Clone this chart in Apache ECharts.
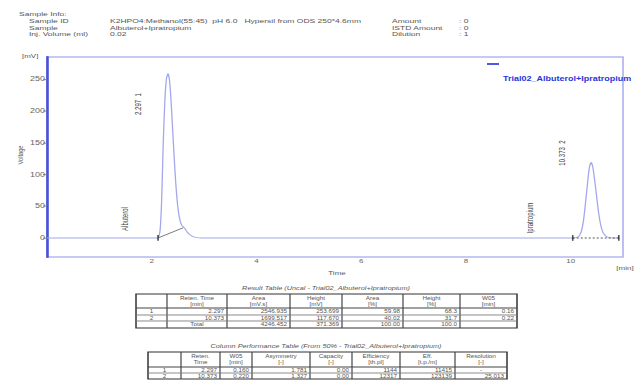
<!DOCTYPE html>
<html><head><meta charset="utf-8">
<script src="https://cdn.jsdelivr.net/npm/echarts@6/dist/echarts.min.js"></script>
<style>
html,body{margin:0;padding:0;background:#fff;overflow:hidden;width:638px;height:385px;}
#wrap{width:638px;height:385px;overflow:hidden;position:relative;}
#c{width:638px;height:539px;transform:scale(1,0.7142857);transform-origin:0 0;}
</style></head><body><div id="wrap"><div id="c"></div></div>
<script>
// ---------------- data ----------------
const traceTime = [0, 1.0, 2.00, 2.10, 2.13, 2.16, 2.19, 2.22, 2.25, 2.28, 2.31, 2.34, 2.37, 2.40, 2.43, 2.46, 2.49, 2.52, 2.55, 2.58, 2.61, 2.64, 2.68, 2.73, 2.79, 2.86, 2.95, 4.0, 6.0, 8.0, 10.05, 10.12, 10.17, 10.21, 10.25, 10.29, 10.33, 10.36, 10.39, 10.42, 10.45, 10.49, 10.53, 10.57, 10.61, 10.66, 10.72, 10.80, 10.92];
const traceMv   = [0, 0, 0, 0, 1, 12, 60, 150, 215, 250, 259, 248, 215, 170, 125, 85, 55, 36, 25, 19, 17, 14, 9, 5, 2, 0.5, 0, 0, 0, 0, 0, 1, 4, 12, 30, 60, 92, 112, 119, 113, 97, 70, 42, 22, 10, 4, 1, 0, 0];
const peak1BaseTime = [2.12, 2.60];
const peak1BaseMv   = [0, 16];
const peak2BaseTime = [10.04, 10.92];
const peak2BaseMv   = [0, 0];
const markerTime = [2.12, 10.04, 10.92];
const markerMv   = [0, 0, 0];
const xTicks = [2, 4, 6, 8, 10];
const yTicks = [0, 50, 100, 150, 200, 250];
const seriesName = 'Trial02_Albuterol+Ipratropium';
const peakLabels = ['2.297  1', 'Albuterol', '10.373  2', 'Ipratropium'];

const infoTitle = 'Sample Info:';
const infoLabels = ['Sample ID', 'Sample', 'Inj. Volume (ml)'];
const infoValues = ['K2HPO4:Methanol(55:45)  pH 6.0   Hypersil from ODS 250*4.6mm', 'Albuterol+Ipratropium', '0.02'];
const infoRightLabels = ['Amount', 'ISTD Amount', 'Dilution'];
const infoRightValues = [': 0', ': 0', ': 1'];

const resultTitle = 'Result Table (Uncal - Trial02_Albuterol+Ipratropium)';
const resultHeaders = ['', 'Reten. Time\n[min]', 'Area\n[mV.s]', 'Height\n[mV]', 'Area\n[%]', 'Height\n[%]', 'W05\n[min]'];
const resultRows = [
  ['1', '2.297', '2546.935', '253.699', '59.98', '68.3', '0.16'],
  ['2', '10.373', '1699.517', '117.670', '40.02', '31.7', '0.22'],
  ['', 'Total', '4246.452', '371.369', '100.00', '100.0', '']
];
const perfTitle = 'Column Performance Table (From 50% - Trial02_Albuterol+Ipratropium)';
const perfHeaders = ['', 'Reten.\nTime', 'W05\n[min]', 'Asymmetry\n[-]', 'Capacity\n[-]', 'Efficiency\n[th.pl]', 'Eff.\n[t.p./m]', 'Resolution\n[-]'];
const perfRows = [
  ['1', '2.297', '0.160', '1.781', '0.00', '1144', '11415', '-'],
  ['2', '10.373', '0.220', '1.327', '0.00', '12317', '123139', '25.013']
];

// ---------------- layout ----------------
const K = 1.4;              // vertical stretch, undone by CSS
const FONT = '"Liberation Sans", Arial, sans-serif';
const zip = (a, b) => a.map((v, i) => [v, b[i]]);

function txt(x, y, s, o) {
  o = o || {};
  return {
    type: 'text', x: x, y: y * K, rotation: o.rot || 0, silent: true, z: 10,
    style: {
      text: s, fill: o.fill || '#555', fontSize: o.size || 8, fontFamily: FONT,
      fontWeight: o.weight || 'normal', fontStyle: o.style || 'normal',
      lineHeight: o.lh || undefined,
      textAlign: o.align || 'left', align: o.align || 'left',
      textVerticalAlign: 'middle', verticalAlign: 'middle'
    }
  };
}
function ln(x1, y1, x2, y2, stroke, w, dash) {
  return { type: 'line', silent: true, z: 10,
    shape: { x1: x1, y1: y1 * K, x2: x2, y2: y2 * K },
    style: { stroke: stroke, lineWidth: w, lineDash: dash || null } };
}
function table(cols, rys, headers, rows, fs) {
  const els = [];
  const x0 = cols[0], x1 = cols[cols.length - 1], y0 = rys[0], y1 = rys[rys.length - 1];
  els.push({ type: 'rect', silent: true, z: 10, shape: { x: x0, y: y0 * K, width: x1 - x0, height: (y1 - y0) * K },
    style: { fill: 'none', stroke: '#333', lineWidth: 1.5 } });
  for (let i = 1; i < cols.length - 1; i++) els.push(ln(cols[i], y0, cols[i], y1, '#444', 1.2));
  for (let j = 1; j < rys.length - 1; j++) els.push(ln(x0, rys[j], x1, rys[j], j === 1 ? '#444' : '#777', j === 1 ? 1.4 : 1.0));
  headers.forEach((h, i) => {
    if (h) els.push(txt((cols[i] + cols[i + 1]) / 2, (rys[0] + rys[1]) / 2, h, { size: fs, align: 'center', lh: 8.6 }));
  });
  rows.forEach((r, ri) => {
    const yc = (rys[ri + 1] + rys[ri + 2]) / 2;
    r.forEach((v, i) => {
      if (!v) return;
      const center = i === 0 || v === 'Total' || v === '-';
      els.push(txt(center ? (cols[i] + cols[i + 1]) / 2 : cols[i + 1] - 3, yc, v, { size: fs, align: center ? 'center' : 'right' }));
    });
  });
  return els;
}

const graphics = [];
// header info
graphics.push(txt(19, 14, infoTitle, { size: 8.5 }));
infoLabels.forEach((s, i) => {
  const y = [20.7, 27.5, 34.3][i];
  graphics.push(txt(29, y, s, { size: 8.5 }));
  graphics.push(txt(110, y, infoValues[i], { size: 8.5 }));
  graphics.push(txt(392, y, infoRightLabels[i], { size: 8.5 }));
  graphics.push(txt(459, y, infoRightValues[i], { size: 8.5 }));
});
// axis names
graphics.push(txt(22, 56, '[mV]', { size: 8 }));
graphics.push(txt(20, 155, 'Voltage', { size: 8, rot: Math.PI / 2, align: 'center' }));
graphics.push(txt(337, 273, 'Time', { size: 8, align: 'center' }));
graphics.push(txt(625, 268, '[min]', { size: 8, align: 'center' }));
// peak labels
graphics.push(txt(138, 104, peakLabels[0], { size: 8.5, rot: Math.PI / 2, align: 'center', fill: '#444' }));
graphics.push(txt(125, 219, peakLabels[1], { size: 8.5, rot: Math.PI / 2, align: 'center', fill: '#444' }));
graphics.push(txt(562, 153, peakLabels[2], { size: 8.5, rot: Math.PI / 2, align: 'center', fill: '#444' }));
graphics.push(txt(530, 218, peakLabels[3], { size: 8.5, rot: Math.PI / 2, align: 'center', fill: '#444' }));
// legend
graphics.push(ln(487, 64, 499, 64, '#3a44dd', 2.5));
graphics.push(txt(503, 79, seriesName, { size: 9, weight: 'bold', fill: '#2a35d8' }));
// tables
graphics.push(txt(326, 288, resultTitle, { size: 7.3, style: 'italic', align: 'center' }));
graphics.push(...table([136, 167, 227, 290, 342, 403, 460, 517], [294, 308, 315, 321, 328], resultHeaders, resultRows, 6.3));
graphics.push(txt(326, 345.5, perfTitle, { size: 7.3, style: 'italic', align: 'center' }));
graphics.push(...table([148, 181, 220, 252, 310, 352, 400, 455, 507], [352, 367, 373, 379], perfHeaders, perfRows, 6.3));

const chart = echarts.init(document.getElementById('c'), null, { renderer: 'svg' });
chart.setOption({
  animation: false,
  backgroundColor: '#fff',
  grid: { left: 47, right: 15, top: 57 * K, bottom: (385 - 257) * K, show: true, borderColor: '#b4b8f0', borderWidth: 1.8, containLabel: false },
  xAxis: {
    type: 'value', min: 0, max: 11,
    axisLine: { show: false },
    axisTick: { show: false },
    splitLine: { show: false },
    axisLabel: { customValues: xTicks, fontSize: 8, color: '#666', margin: 2, fontFamily: FONT }
  },
  yAxis: {
    type: 'value', min: -30, max: 285,
    axisLine: { show: true, lineStyle: { color: '#4b52d6', width: 2.6 } },
    axisTick: { show: true, customValues: yTicks, length: 4, lineStyle: { color: '#777', width: 1 } },
    splitLine: { show: false },
    axisLabel: { customValues: yTicks, fontSize: 9, color: '#666', margin: 2, fontFamily: FONT }
  },
  series: [
    { name: seriesName, type: 'line', data: zip(traceTime, traceMv), showSymbol: false, smooth: 0.2,
      lineStyle: { color: '#a3a7ec', width: 1.3 }, z: 3 },
    { name: 'base1', type: 'line', data: zip(peak1BaseTime, peak1BaseMv), showSymbol: false,
      lineStyle: { color: '#666', width: 1 }, z: 4 },
    { name: 'base2', type: 'line', data: zip(peak2BaseTime, peak2BaseMv), showSymbol: false,
      lineStyle: { color: '#555', width: 1.2, type: [2, 2] }, z: 4 },
    { name: 'markers', type: 'scatter', data: zip(markerTime, markerMv), symbol: 'rect', symbolSize: [1.6, 8],
      itemStyle: { color: '#222' }, z: 5 }
  ],
  graphic: { elements: graphics }
});
</script></body></html>
